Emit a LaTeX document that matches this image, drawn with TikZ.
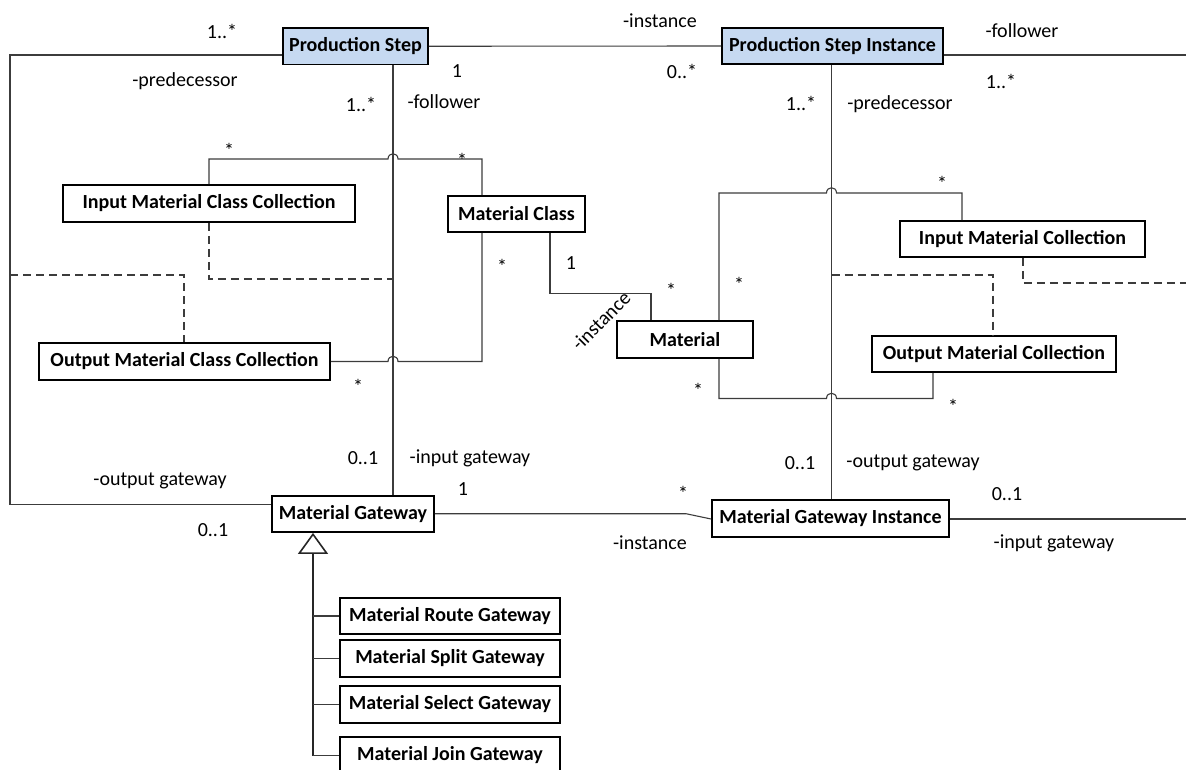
\documentclass[tikz,border=0pt]{standalone}
\usepackage{fontspec}
\setmainfont{Carlito}
\usetikzlibrary{arrows.meta}
\definecolor{stepblue}{RGB}{198,217,241}
\definecolor{wire}{RGB}{60,60,60}
\begin{document}
\begin{tikzpicture}[x=1pt,y=-1pt,
  every node/.style={font=\fontsize{20}{24}\selectfont},
  cls/.style={draw=black, line width=1.8pt, inner sep=0pt, fill=white,
              font=\fontsize{20}{24}\selectfont\bfseries},
  stepcls/.style={cls, fill=stepblue},
  lbl/.style={inner sep=0pt},
  wireline/.style={draw=wire, line width=1.1pt},
  genline/.style={draw=black!85, line width=1.8pt},
  dep/.style={draw=wire, line width=1.2pt, dash pattern=on 8pt off 5pt},
]
\useasboundingbox (0,0) rectangle (1186,769);

% ---------- classes ----------
\node[stepcls, minimum width=145pt, minimum height=36.5pt] (ps)  at (355.5,46.25) {Production Step};
\node[stepcls, minimum width=221pt, minimum height=36pt]   (psi) at (832.5,46)    {Production Step Instance};
\node[cls, minimum width=292pt, minimum height=37pt] (imcc) at (209,203.5)  {Input Material Class Collection};
\node[cls, minimum width=291pt, minimum height=37pt] (omcc) at (184.5,361.5) {Output Material Class Collection};
\node[cls, minimum width=137pt, minimum height=36pt] (mc)   at (516.5,214)  {Material Class};
\node[cls, minimum width=136pt, minimum height=37pt] (mat)  at (685,339.5)  {Material};
\node[cls, minimum width=245pt, minimum height=36pt] (imc)  at (1022.5,239) {Input Material Collection};
\node[cls, minimum width=244pt, minimum height=36pt] (omc)  at (994,354)    {Output Material Collection};
\node[cls, minimum width=162pt, minimum height=36pt] (mg)   at (353,514)    {Material Gateway};
\node[cls, minimum width=237pt, minimum height=37pt] (mgi)  at (830.5,518.5) {Material Gateway Instance};
\node[cls, minimum width=220pt, minimum height=36pt] (route)  at (450,616)   {Material Route Gateway};
\node[cls, minimum width=220pt, minimum height=37pt] (split)  at (450,658.5) {Material Split Gateway};
\node[cls, minimum width=220pt, minimum height=37pt] (select) at (450,704.5) {Material Select Gateway};
\node[cls, minimum width=220pt, minimum height=37pt] (join)   at (450,755.5) {Material Join Gateway};

% ---------- free ends at the right border ----------
\coordinate (psiout) at (1186,55);
\coordinate (mgiout) at (1186,519);
\coordinate (imcout) at (1186,283);
\coordinate (leftdep) at (10,275);
\coordinate (rightdep) at (831.5,275);

% ---------- associations ----------
\draw[wireline] (ps.east) -- (psi.west);
\draw[wireline] (ps.west |- 0,55) -| (10,504.3) -- (mg.west |- 0,504.3);
\draw[wireline] (psi.east |- psiout) -- (psiout);
\draw[wireline] (ps.south -| 393,0) -- (mg.north -| 393,0);
\draw[wireline] (psi.south -| 831.5,0) -- (mgi.north -| 831.5,0);

% class collections to material class (hopping over the step line)
\draw[wireline] (imcc.north) |- (388,159) .. controls (388,152) and (398,152) .. (398,159)
  -| (mc.north -| 482,0);
\draw[wireline] (omcc.east) -- (388,361.5) .. controls (388,354.5) and (398,354.5) .. (398,361.5)
  -| (mc.south -| 482,0);
\draw[wireline] (mc.south -| 550,0) |- (651,293.3) -- (mat.north -| 651,0);

% material to material collections (hopping over the instance line)
\draw[wireline] (mat.north -| 719,0) |- (826.5,193) .. controls (826.5,186) and (836.5,186) .. (836.5,193)
  -| (imc.north -| 962,0);
\draw[wireline] (mat.south -| 719,0) |- (826.5,398.5) .. controls (826.5,391.5) and (836.5,391.5) .. (836.5,398.5)
  -| (omc.south -| 933,0);

% dependencies
\draw[dep] (imcc.south) |- (393,279);
\draw[dep] (leftdep) -| (omcc.north -| 184,0);
\draw[dep] (imc.south -| 1023,0) |- (imcout);
\draw[dep] (rightdep) -| (omc.north -| 993,0);

% gateways
\draw[wireline] (mg.east |- 0,513.7) -- (686,513.7) -- (mgi.west |- 0,519);
\draw[wireline] (mgi.east |- mgiout) -- (mgiout);

% generalization
\coordinate (gtop) at (mg.south -| 313,0);
\coordinate (gbot) at (join.west -| 313,0);
\draw[genline, -{Triangle[open, length=21pt, width=30pt, line width=1.6pt]}] (gbot) -- (gtop);
\draw[wireline] (route.west) -- (route.west -| gbot);
\draw[wireline] (split.west) -- (split.west -| gbot);
\draw[wireline] (select.west) -- (select.west -| gbot);
\draw[wireline] (join.west) -- (gbot);

% ---------- role names and multiplicities ----------
\node[lbl] (t01) at (222,31)  {1..*};
\node[lbl] (t02) at (185,81)  {-predecessor};
\node[lbl] (t03) at (361,104) {1..*};
\node[lbl] (t04) at (444,102) {-follower};
\node[lbl] (t05) at (457,71)  {1};
\node[lbl] (t06) at (660,21)  {-instance};
\node[lbl] (t07) at (682,71)  {0..*};
\node[lbl] (t08) at (1022,31) {-follower};
\node[lbl] (t09) at (1001,81) {1..*};
\node[lbl] (t10) at (801,103) {1..*};
\node[lbl] (t11) at (900,104) {-predecessor};
\node[lbl] (t12) at (229,150) {*};
\node[lbl] (t13) at (462,160) {*};
\node[lbl] (t14) at (942,183) {*};
\node[lbl] (t15) at (502,266) {*};
\node[lbl] (t16) at (571,263) {1};
\node[lbl] (t17) at (671,290) {*};
\node[lbl] (t18) at (739,284) {*};
\node[lbl, rotate=45] (t19) at (601,321) {-instance};
\node[lbl] (t20) at (358,386) {*};
\node[lbl] (t21) at (698,390) {*};
\node[lbl] (t22) at (953,406) {*};
\node[lbl] (t23) at (363,458) {0..1};
\node[lbl] (t24) at (470,458) {-input gateway};
\node[lbl] (t25) at (160,481) {-output gateway};
\node[lbl] (t26) at (463,489) {1};
\node[lbl] (t27) at (213,530) {0..1};
\node[lbl] (t28) at (800,463) {0..1};
\node[lbl] (t29) at (913,463) {-output gateway};
\node[lbl] (t30) at (683,493) {*};
\node[lbl] (t31) at (1007,494) {0..1};
\node[lbl] (t32) at (650,543) {-instance};
\node[lbl] (t33) at (1054,543) {-input gateway};
\end{tikzpicture}
\end{document}
